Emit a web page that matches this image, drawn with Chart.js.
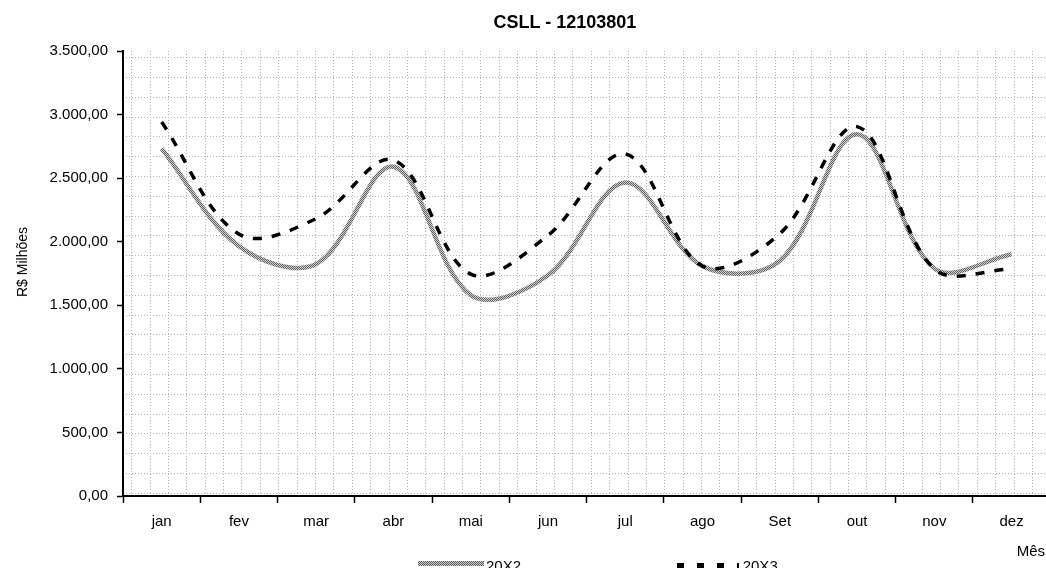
<!DOCTYPE html>
<html><head><meta charset="utf-8">
<script src="https://cdn.jsdelivr.net/npm/chart.js@4/dist/chart.umd.min.js"></script>
<style>
html,body{margin:0;padding:0;background:#fff;overflow:hidden;}
#wrap{position:relative;width:1046px;height:568px;font-family:"Liberation Sans",Arial,sans-serif;color:#000;overflow:hidden;}
canvas{position:absolute;left:0;top:0;}
.t{position:absolute;white-space:nowrap;}
#title{left:565px;top:13px;font-size:18px;line-height:18px;font-weight:bold;transform:translateX(-50%);}
#ytitle{left:21.5px;top:262px;font-size:14px;line-height:14px;transform:translate(-50%,-50%) rotate(-90deg);}
#xtitle{right:1px;top:543px;font-size:15px;line-height:15px;}
.lt{position:absolute;font-size:15px;line-height:15px;top:558px;}
#lg1{position:absolute;left:418px;top:560.5px;width:66px;height:5px;background:repeating-conic-gradient(#5a5a5a 0 25%,#d0d0d0 0 50%) 0 0/2px 2px;}
#lg2{position:absolute;left:676.7px;top:563px;width:62px;height:5px;background:repeating-linear-gradient(90deg,#000 0 6.7px,transparent 6.7px 20px);}
</style></head><body>
<div id="wrap">
<canvas id="c" width="1046" height="568"></canvas>
<div class="t" id="title">CSLL - 12103801</div>
<div class="t" id="ytitle">R$ Milhões</div>
<div class="t" id="xtitle">Mês</div>
<div id="lg1"></div><div class="lt" style="left:486px">20X2</div>
<div id="lg2"></div><div class="lt" style="left:742.7px">20X3</div>
</div>
<script>
// ---- data ----
const months = ['jan','fev','mar','abr','mai','jun','jul','ago','Set','out','nov','dez'];
const monthPos = [0,1,2,3,4,5,6,7,8,9,10,11];
const s20X2 = [2732,1965,1825,2590,1580,1736,2465,1808,1850,2845,1790,1901];
const s20X3 = [2941,2060,2182,2642,1745,2050,2690,1808,2063,2905,1785,1785];
const yTickValues = [0,500,1000,1500,2000,2500,3000,3500];
const monthBounds = [-0.5,0.5,1.5,2.5,3.5,4.5,5.5,6.5,7.5,8.5,9.5,10.5];
const vGridIdx = Array.from({length:50},(_, i)=>i);
const hGridIdx = Array.from({length:23},(_, i)=>i);

function fmt(v){
  const p = Number(v).toFixed(2).split('.');
  return p[0].replace(/\B(?=(\d{3})+(?!\d))/g,'.') + ',' + p[1];
}

// textured grey pattern for 20X2
const pc = document.createElement('canvas'); pc.width = 2; pc.height = 2;
const pctx = pc.getContext('2d');
pctx.fillStyle = '#d2d2d2'; pctx.fillRect(0,0,2,2);
pctx.fillStyle = '#5e5e5e'; pctx.fillRect(0,0,1,1); pctx.fillRect(1,1,1,1);
const greyPattern = document.getElementById('c').getContext('2d').createPattern(pc,'repeat');

Chart.defaults.font.family = "'Liberation Sans', Arial, sans-serif";
Chart.defaults.color = '#000';

const gridCol = '#b4b4b4';

new Chart(document.getElementById('c'), {
  type: 'line',
  data: {
    datasets: [
      { label: '20X2', data: monthPos.map((x,i)=>({x:x, y:s20X2[i]})), xAxisID:'x', yAxisID:'y',
        borderColor: greyPattern, borderWidth: 4.5, pointRadius: 0, tension: 0.35, fill:false, order: 2 },
      { label: '20X3', data: monthPos.map((x,i)=>({x:x, y:s20X3[i]})), xAxisID:'x', yAxisID:'y',
        borderColor: '#000', borderWidth: 3.5, borderDash:[9,10], pointRadius: 0, tension: 0.35, fill:false, order: 1 }
    ]
  },
  options: {
    responsive: false, devicePixelRatio: 1, animation: false,
    layout: { padding: { top: 51, left: 0, right: 0, bottom: 0 } },
    plugins: { legend: { display:false }, title: { display:false }, tooltip: { enabled:false } },
    scales: {
      gx: { type:'linear', axis:'x', position:'top', min:-0.473, max:49.74,
        afterBuildTicks: s => { s.ticks = vGridIdx.map(v=>({value:v})); },
        ticks:{ display:false }, grid:{ drawTicks:false, color:gridCol, lineWidth:1 },
        border:{ display:false, dash:[1,2] } },
      gy: { type:'linear', axis:'y', position:'right', min:-0.136, max:22.34,
        afterBuildTicks: s => { s.ticks = hGridIdx.map(v=>({value:v})); },
        ticks:{ display:false }, grid:{ drawTicks:false, color:gridCol, lineWidth:1 },
        border:{ display:false, dash:[1,2] } },
      x: { type:'linear', position:'bottom', min:-0.5, max:11.445,
        afterBuildTicks: s => { s.ticks = monthBounds.concat(monthPos).sort((a,b)=>a-b).map(v=>({value:v})); },
        ticks:{ autoSkip:false, maxRotation:0, minRotation:0, padding:10, font:{size:15},
          callback: v => Number.isInteger(v) ? months[v] : '' },
        grid:{ drawOnChartArea:false, drawTicks:true, tickLength:7, tickWidth:1.5,
          tickColor: ctx => (ctx.tick && Number.isInteger(ctx.tick.value)) ? 'rgba(0,0,0,0)' : '#000' },
        border:{ display:true, color:'#000', width:2 },
        afterFit: s => { s.height = 72; s.paddingLeft = 0; s.paddingRight = 0; } },
      y: { type:'linear', position:'left', min:0, max:3500,
        afterBuildTicks: s => { s.ticks = yTickValues.map(v=>({value:v})); },
        ticks:{ padding:9, font:{size:15}, callback: v => fmt(v) },
        grid:{ drawOnChartArea:false, tickLength:6, tickWidth:1.5, tickColor:'#000' },
        border:{ display:true, color:'#000', width:2 },
        afterFit: s => { s.width = 123; s.paddingTop = 0; s.paddingBottom = 0; } }
    }
  }
});
</script>
</body></html>
